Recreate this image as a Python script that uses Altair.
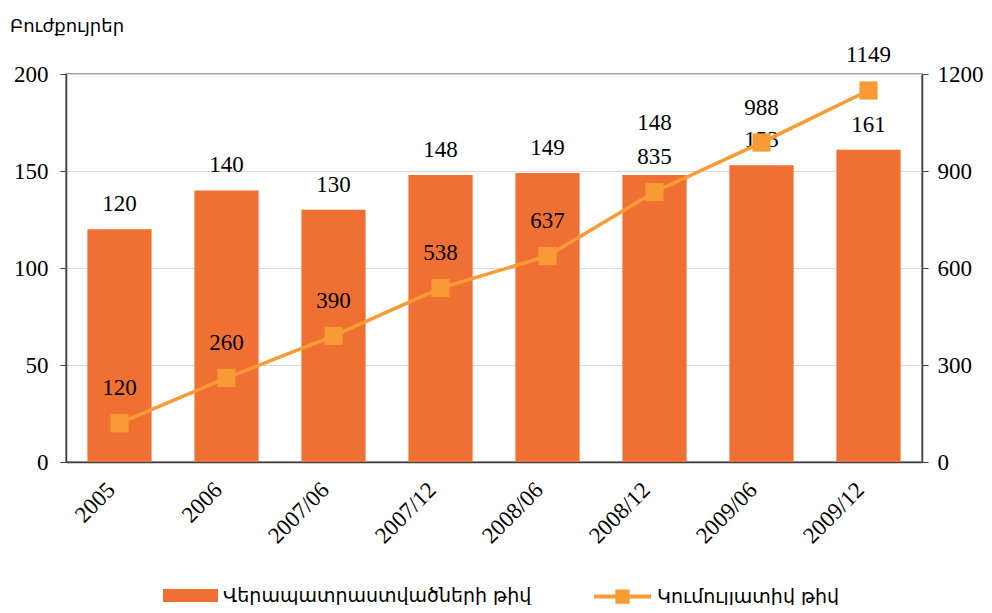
import altair as alt
import pandas as pd

categories = ["2005", "2006", "2007/06", "2007/12", "2008/06", "2008/12", "2009/06", "2009/12"]
trained = [120, 140, 130, 148, 149, 148, 153, 161]
cumulative = [120, 260, 390, 538, 637, 835, 988, 1149]
bar_name = "Վերապատրաստվածների թիվ"
line_name = "Կումուլյատիվ թիվ"
title_text = "Բուժքույրեր"

df = pd.DataFrame({
    "cat": categories,
    "trained": trained,
    "cum": cumulative,
    "bar_series": [bar_name] * len(categories),
    "line_series": [line_name] * len(categories),
})

FONT = "Liberation Serif, DejaVu Serif"
ARM_FONT = "DejaVu Sans"
BAR_C = "#F07033"
LINE_C = "#F89B35"
NUM_SIZE = 23

x = alt.X("cat:N", sort=categories, title=None,
          scale=alt.Scale(paddingInner=0.4, paddingOuter=0.2),
          axis=alt.Axis(labelAngle=-45, labelAlign="right", labelBaseline="middle",
                        labelPadding=24, labelOffset=-8, ticks=False, domainColor="#404040",
                        domainWidth=1.5, labelFontSize=NUM_SIZE))

base = alt.Chart(df)

y_left_scale = alt.Scale(domain=[0, 200])
y_right_scale = alt.Scale(domain=[0, 1200])

bars = base.mark_bar(color=BAR_C).encode(
    x=x,
    y=alt.Y("trained:Q", title=None, scale=y_left_scale,
            axis=alt.Axis(values=[0, 50, 100, 150, 200], format="d", orient="left", grid=True,
                          gridColor="#d9d9d9", domainColor="#404040", domainWidth=1.5,
                          tickColor="#404040", tickSize=6, labelPadding=12,
                          labelFontSize=NUM_SIZE)),
    fill=alt.Fill("bar_series:N", scale=alt.Scale(domain=[bar_name], range=[BAR_C]),
                  legend=alt.Legend(title=None, orient="none", legendX=97, legendY=494,
                                    symbolType="M-1,-0.24H1V0.24H-1Z", symbolSize=3025,
                                    symbolStrokeWidth=0, labelFontSize=19, labelOffset=5,
                                    labelLimit=500, labelFont=ARM_FONT)),
)

bar_labels = base.mark_text(baseline="alphabetic", dy=-18, fontSize=NUM_SIZE, font=FONT, color="#000").encode(
    x=x, y=alt.Y("trained:Q", scale=y_left_scale),
    text="trained:Q",
).transform_filter(alt.datum.cat != "2008/12")

bar_labels_up = base.mark_text(baseline="alphabetic", dy=-45, fontSize=NUM_SIZE, font=FONT, color="#000").encode(
    x=x, y=alt.Y("trained:Q", scale=y_left_scale),
    text="trained:Q",
).transform_filter(alt.datum.cat == "2008/12")

left = alt.layer(bars, bar_labels, bar_labels_up)

y_right = alt.Y("cum:Q", title=None, scale=y_right_scale,
                axis=alt.Axis(values=[0, 300, 600, 900, 1200], format="d", orient="right", grid=False,
                              domainColor="#404040", domainWidth=1.5,
                              tickColor="#404040", tickSize=6, labelPadding=9,
                              labelFontSize=NUM_SIZE))

line = base.mark_line(color=LINE_C, strokeWidth=3.5).encode(x=x, y=y_right)
points = base.mark_point(shape="square", filled=True, size=330, opacity=1).encode(
    x=x, y=alt.Y("cum:Q", scale=y_right_scale),
    fill=alt.Fill("line_series:N", scale=alt.Scale(domain=[line_name], range=[LINE_C]),
                  legend=alt.Legend(title=None, orient="none", legendX=528, legendY=494,
                                    symbolType="M-1,-0.07H1V0.07H-1Z M-0.25,-0.25H0.25V0.25H-0.25Z",
                                    symbolSize=3249, symbolStrokeWidth=0,
                                    labelFontSize=19, labelOffset=6, labelLimit=500,
                                    labelFont=ARM_FONT)),
)
line_labels = base.mark_text(baseline="alphabetic", dy=-28, fontSize=NUM_SIZE, font=FONT, color="#000").encode(
    x=x, y=alt.Y("cum:Q", scale=y_right_scale),
    text="cum:Q",
)

right = alt.layer(line, points, line_labels)

chart = alt.layer(left, right).resolve_scale(y="independent", fill="independent").properties(
    width=856, height=388,
    padding={"left": 58, "top": 66, "right": 62, "bottom": 143},
    autosize=alt.AutoSizeParams(type="none"),
    title=alt.TitleParams(title_text, anchor="start", frame="group", dx=-56, offset=8,
                          fontSize=18, fontWeight="normal", font=ARM_FONT, color="#000"),
).configure_view(stroke="#808080", strokeWidth=1.5).configure_axis(
    labelFont=FONT, labelColor="#000"
).configure_legend(labelColor="#000")

chart.save("out.html", embed_options={"renderer": "svg", "actions": False})
